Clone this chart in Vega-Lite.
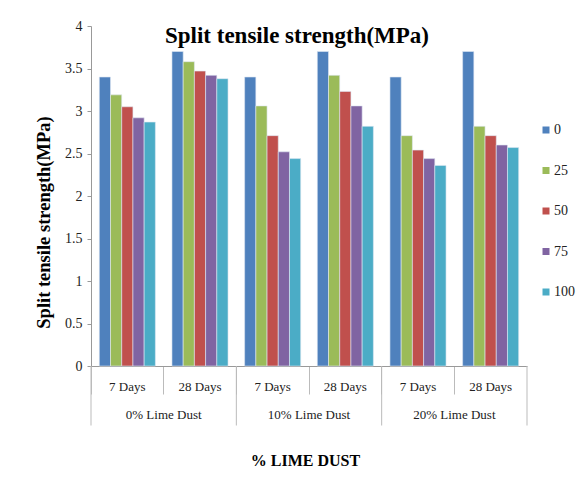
{
  "$schema": "https://vega.github.io/schema/vega-lite/v6.json",
  "autosize": "none",
  "width": 436,
  "height": 340,
  "padding": {"left": 91, "top": 26, "right": 53, "bottom": 129},
  "background": "white",
  "config": {
    "view": {"stroke": null},
    "font": "'Liberation Serif', 'Times New Roman', serif"
  },
  "title": {
    "text": "Split tensile strength(MPa)",
    "font": "'Liberation Serif', 'Times New Roman', serif",
    "fontSize": 23,
    "fontWeight": "bold",
    "color": "#000000",
    "anchor": "middle",
    "dx": -12,
    "dy": 33
  },
  "datasets": {
    "bars": [
      {"g": "0% Lime Dust", "d": "7 Days", "k": "0% Lime Dust|7 Days", "s": "0", "v": 3.40},
      {"g": "0% Lime Dust", "d": "7 Days", "k": "0% Lime Dust|7 Days", "s": "25", "v": 3.19},
      {"g": "0% Lime Dust", "d": "7 Days", "k": "0% Lime Dust|7 Days", "s": "50", "v": 3.05},
      {"g": "0% Lime Dust", "d": "7 Days", "k": "0% Lime Dust|7 Days", "s": "75", "v": 2.92},
      {"g": "0% Lime Dust", "d": "7 Days", "k": "0% Lime Dust|7 Days", "s": "100", "v": 2.87},
      {"g": "0% Lime Dust", "d": "28 Days", "k": "0% Lime Dust|28 Days", "s": "0", "v": 3.70},
      {"g": "0% Lime Dust", "d": "28 Days", "k": "0% Lime Dust|28 Days", "s": "25", "v": 3.58},
      {"g": "0% Lime Dust", "d": "28 Days", "k": "0% Lime Dust|28 Days", "s": "50", "v": 3.47},
      {"g": "0% Lime Dust", "d": "28 Days", "k": "0% Lime Dust|28 Days", "s": "75", "v": 3.42},
      {"g": "0% Lime Dust", "d": "28 Days", "k": "0% Lime Dust|28 Days", "s": "100", "v": 3.38},
      {"g": "10% Lime Dust", "d": "7 Days", "k": "10% Lime Dust|7 Days", "s": "0", "v": 3.40},
      {"g": "10% Lime Dust", "d": "7 Days", "k": "10% Lime Dust|7 Days", "s": "25", "v": 3.06},
      {"g": "10% Lime Dust", "d": "7 Days", "k": "10% Lime Dust|7 Days", "s": "50", "v": 2.71},
      {"g": "10% Lime Dust", "d": "7 Days", "k": "10% Lime Dust|7 Days", "s": "75", "v": 2.52},
      {"g": "10% Lime Dust", "d": "7 Days", "k": "10% Lime Dust|7 Days", "s": "100", "v": 2.44},
      {"g": "10% Lime Dust", "d": "28 Days", "k": "10% Lime Dust|28 Days", "s": "0", "v": 3.70},
      {"g": "10% Lime Dust", "d": "28 Days", "k": "10% Lime Dust|28 Days", "s": "25", "v": 3.42},
      {"g": "10% Lime Dust", "d": "28 Days", "k": "10% Lime Dust|28 Days", "s": "50", "v": 3.23},
      {"g": "10% Lime Dust", "d": "28 Days", "k": "10% Lime Dust|28 Days", "s": "75", "v": 3.06},
      {"g": "10% Lime Dust", "d": "28 Days", "k": "10% Lime Dust|28 Days", "s": "100", "v": 2.82},
      {"g": "20% Lime Dust", "d": "7 Days", "k": "20% Lime Dust|7 Days", "s": "0", "v": 3.40},
      {"g": "20% Lime Dust", "d": "7 Days", "k": "20% Lime Dust|7 Days", "s": "25", "v": 2.71},
      {"g": "20% Lime Dust", "d": "7 Days", "k": "20% Lime Dust|7 Days", "s": "50", "v": 2.54},
      {"g": "20% Lime Dust", "d": "7 Days", "k": "20% Lime Dust|7 Days", "s": "75", "v": 2.44},
      {"g": "20% Lime Dust", "d": "7 Days", "k": "20% Lime Dust|7 Days", "s": "100", "v": 2.36},
      {"g": "20% Lime Dust", "d": "28 Days", "k": "20% Lime Dust|28 Days", "s": "0", "v": 3.70},
      {"g": "20% Lime Dust", "d": "28 Days", "k": "20% Lime Dust|28 Days", "s": "25", "v": 2.82},
      {"g": "20% Lime Dust", "d": "28 Days", "k": "20% Lime Dust|28 Days", "s": "50", "v": 2.71},
      {"g": "20% Lime Dust", "d": "28 Days", "k": "20% Lime Dust|28 Days", "s": "75", "v": 2.60},
      {"g": "20% Lime Dust", "d": "28 Days", "k": "20% Lime Dust|28 Days", "s": "100", "v": 2.57}
    ],
    "groups": [
      {"g": "0% Lime Dust", "kStart": "0% Lime Dust|7 Days", "kMid": "0% Lime Dust|28 Days", "kEnd": "0% Lime Dust|28 Days"},
      {"g": "10% Lime Dust", "kStart": "10% Lime Dust|7 Days", "kMid": "10% Lime Dust|28 Days", "kEnd": "10% Lime Dust|28 Days"},
      {"g": "20% Lime Dust", "kStart": "20% Lime Dust|7 Days", "kMid": "20% Lime Dust|28 Days", "kEnd": "20% Lime Dust|28 Days"}
    ]
  },
  "layer": [
    {
      "data": {"name": "bars"},
      "mark": {"type": "bar", "stroke": "#dfe8f3", "strokeWidth": 0.6},
      "encoding": {
        "x": {
          "field": "k",
          "type": "nominal",
          "scale": {
            "domain": ["0% Lime Dust|7 Days", "0% Lime Dust|28 Days", "10% Lime Dust|7 Days", "10% Lime Dust|28 Days", "20% Lime Dust|7 Days", "20% Lime Dust|28 Days"],
            "paddingInner": 0,
            "paddingOuter": 0
          },
          "axis": {
            "title": "% LIME DUST",
            "titleFont": "'Liberation Serif', 'Times New Roman', serif",
            "titleFontSize": 16,
            "titleFontWeight": "bold",
            "titleColor": "#000000",
            "titleBaseline": "middle",
            "titleAlign": "center",
            "titleX": 214,
            "titleY": 94,
            "labelExpr": "split(datum.value, '|')[1]",
            "labelAngle": 0,
            "labelFont": "'Liberation Serif', 'Times New Roman', serif",
            "labelFontSize": 13,
            "labelColor": "#222222",
            "labelPadding": -14,
            "bandPosition": 0,
            "tickSize": 28,
            "tickColor": "#bbbbbb",
            "domainColor": "#999999",
            "grid": false
          }
        },
        "xOffset": {
          "field": "s",
          "type": "nominal",
          "sort": ["0", "25", "50", "75", "100"],
          "scale": {"paddingInner": 0, "paddingOuter": 0.74}
        },
        "y": {
          "field": "v",
          "type": "quantitative",
          "scale": {"domain": [0, 4], "nice": false, "zero": true},
          "axis": {
            "title": "Split tensile  strength(MPa)",
            "titleFont": "'Liberation Serif', 'Times New Roman', serif",
            "titleFontSize": 18.5,
            "titleFontWeight": "bold",
            "titleColor": "#000000",
            "titleX": -48,
            "titleY": 196,
            "titleAngle": -90,
            "titleAlign": "center",
            "titleBaseline": "middle",
            "values": [0, 0.5, 1, 1.5, 2, 2.5, 3, 3.5, 4],
            "format": "~g",
            "labelFont": "'Liberation Serif', 'Times New Roman', serif",
            "labelFontSize": 14,
            "labelColor": "#222222",
            "labelPadding": 5,
            "tickSize": 4,
            "tickColor": "#999999",
            "domainColor": "#999999",
            "grid": false
          }
        },
        "color": {
          "field": "s",
          "type": "nominal",
          "sort": ["0", "25", "50", "75", "100"],
          "scale": {
            "domain": ["0", "25", "50", "75", "100"],
            "range": ["#4F81BD", "#9BBB59", "#C0504D", "#8064A2", "#4BACC6"]
          },
          "legend": {
            "title": null,
            "orient": "none",
            "legendX": 448,
            "legendY": 97,
            "padding": 0,
            "symbolType": "square",
            "symbolSize": 49,
            "symbolStrokeWidth": 0,
            "labelFont": "'Liberation Serif', 'Times New Roman', serif",
            "labelFontSize": 14,
            "labelColor": "#222222",
            "labelOffset": 1,
            "rowPadding": 26.5
          }
        }
      }
    },
    {
      "data": {"name": "groups"},
      "mark": {"type": "rule", "color": "#bbbbbb", "strokeWidth": 1},
      "encoding": {
        "x": {"field": "kStart", "type": "nominal", "bandPosition": 0},
        "y": {"datum": 0},
        "y2": {"datum": -0.7}
      }
    },
    {
      "data": {"name": "groups"},
      "transform": [{"filter": "datum.g == '20% Lime Dust'"}],
      "mark": {"type": "rule", "color": "#bbbbbb", "strokeWidth": 1},
      "encoding": {
        "x": {"field": "kEnd", "type": "nominal", "bandPosition": 1},
        "y": {"datum": 0},
        "y2": {"datum": -0.7}
      }
    },
    {
      "data": {"name": "groups"},
      "mark": {"type": "text", "font": "'Liberation Serif', 'Times New Roman', serif", "fontSize": 13, "color": "#222222", "baseline": "middle", "align": "center"},
      "encoding": {
        "x": {"field": "kMid", "type": "nominal", "bandPosition": 0},
        "y": {"datum": -0.58},
        "text": {"field": "g"}
      }
    }
  ]
}
